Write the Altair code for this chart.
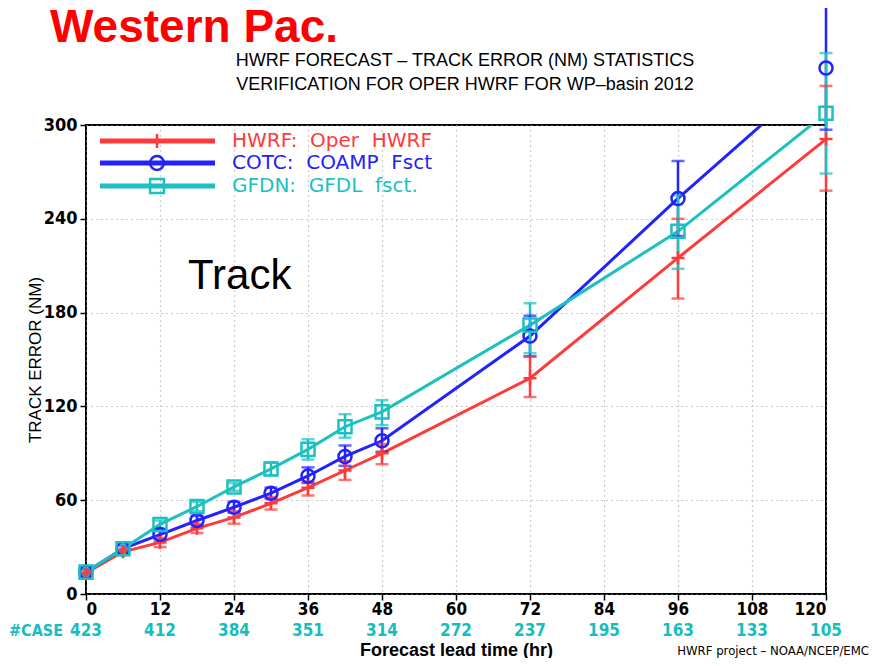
import altair as alt
import pandas as pd

# ---------------- data ----------------
hours = [0, 6, 12, 18, 24, 30, 36, 42, 48, 72, 96, 120]

hwrf = [13.5, 27, 33, 42, 49, 58, 68, 79, 90, 138, 215, 291]
hwrf_lo = [12, 25, 30, 39, 45, 54, 63, 73, 83, 126, 189, 258]
hwrf_hi = [15, 29, 36, 45, 53, 62, 72, 85, 96, 152, 240, 325]

cotc = [14, 29, 38, 47, 55.5, 64.5, 75.5, 88, 98, 165, 253, 336.5]
cotc_lo = [12, 27, 35, 44, 52, 61, 71, 82, 91, 152, 229, 297]
cotc_hi = [16, 31, 41, 50, 59, 68, 81, 95, 106, 178, 277, 377]

gfdn = [14, 29, 44.5, 56, 68.5, 80, 92.5, 107, 116.5, 172, 232, 307.5]
gfdn_lo = [12, 27, 42, 53, 66, 76, 86, 100, 108, 154, 208, 269]
gfdn_hi = [16, 31, 47, 59, 71, 84, 99, 115, 124, 186, 255, 346]

series_names = ["HWRF", "COTC", "GFDN"]
legend_labels = ["HWRF:\u00a0\u00a0Oper\u00a0\u00a0HWRF",
                 "COTC:\u00a0\u00a0COAMP\u00a0\u00a0Fsct",
                 "GFDN:\u00a0\u00a0GFDL\u00a0\u00a0fsct."]
colors = ["#FF3A3A", "#2222FF", "#1DC0C0"]

case_hours = [0, 12, 24, 36, 48, 60, 72, 84, 96, 108, 120]
case_counts = [423, 412, 384, 351, 314, 272, 237, 195, 163, 133, 105]

x_ticks = [0, 12, 24, 36, 48, 60, 72, 84, 96, 108, 120]
y_ticks = [0, 60, 120, 180, 240, 300]

# ---------------- tables ----------------
rows = []
for name, v, lo, hi in [("HWRF", hwrf, hwrf_lo, hwrf_hi),
                        ("COTC", cotc, cotc_lo, cotc_hi),
                        ("GFDN", gfdn, gfdn_lo, gfdn_hi)]:
    for h, a, b, c in zip(hours, v, lo, hi):
        rows.append({"series": name, "hour": h, "val": a, "lo": b, "hi": c})
df = pd.DataFrame(rows)
case_df = pd.DataFrame({"hour": case_hours, "n": [str(c) for c in case_counts]})

PLUS = "M-1,0H1M0,-1V1"
shapes = [PLUS, "circle", "square"]
NARROW = "Liberation Sans Narrow, DejaVu Sans Condensed, sans-serif"

W, H = 740, 469

xs = alt.Scale(domain=[0, 120], nice=False, zero=False)
ys = alt.Scale(domain=[0, 300], nice=False)
col = alt.Color("series:N", scale=alt.Scale(domain=series_names, range=colors), legend=None)

base = alt.Chart(df)

X = alt.X("hour:Q", scale=xs,
          axis=alt.Axis(values=x_ticks, title="Forecast lead time (hr)",
                        titleY=61, titleBaseline="alphabetic",
                        titleFont="Liberation Sans", titleFontSize=18, titleFontWeight="bold",
                        labelFont=NARROW, labelFontSize=17, labelFontWeight="bold", labelPadding=1,
                        tickSize=6, tickColor="black", tickWidth=1.5, domain=False,
                        grid=True, gridDash=[1, 4], gridColor="#9a9a9a", gridWidth=1.2,
                        labelColor="black", titleColor="black"))
Y = alt.Y("val:Q", scale=ys,
          axis=alt.Axis(values=y_ticks, title="TRACK ERROR (NM)",
                        titleFont="Liberation Sans", titleFontSize=17, titleFontWeight="normal",
                        titleX=-51, titleBaseline="middle",
                        labelFont=NARROW, labelFontSize=18, labelFontWeight="bold", labelPadding=3,
                        tickSize=6, tickColor="black", tickWidth=1.5, domain=False,
                        grid=True, gridDash=[1, 4], gridColor="#9a9a9a", gridWidth=1.2,
                        labelColor="black", titleColor="black"))

lines = base.mark_line(strokeWidth=3, clip=True).encode(x=X, y=Y, color=col, detail="series:N")
err = base.mark_rule(strokeWidth=2.5).encode(x="hour:Q", y="lo:Q", y2="hi:Q", color=col)
cap_lo = base.mark_tick(orient="horizontal", size=13, thickness=2.5).encode(x="hour:Q", y="lo:Q", color=col)
cap_hi = base.mark_tick(orient="horizontal", size=13, thickness=2.5).encode(x="hour:Q", y="hi:Q", color=col)
pts = base.mark_point(filled=False, strokeWidth=2.5, size=170, opacity=1).encode(
    x="hour:Q", y="val:Q", color=col,
    shape=alt.Shape("series:N", scale=alt.Scale(domain=series_names, range=shapes), legend=None))

case_text = alt.Chart(case_df).mark_text(
    font=NARROW, fontSize=17, fontWeight="bold",
    color="#17BDBD", baseline="middle", align="center").encode(
    x="hour:Q", y=alt.value(506), text="n:N")

one = pd.DataFrame({"a": [0]})


def label(txt, x, y, size, color="black", weight="normal", font="Liberation Sans", align="left",
          baseline="alphabetic"):
    return alt.Chart(one).mark_text(text=txt, font=font, fontSize=size, fontWeight=weight,
                                    color=color, align=align, baseline=baseline).encode(
        x=alt.value(x), y=alt.value(y))


annos = [
    label("Western Pac.", -36, -83, 46, color="#FF0000", weight="bold"),
    label("HWRF FORECAST \u2013 TRACK ERROR (NM) STATISTICS", 379, -59, 18, align="center"),
    label("VERIFICATION FOR OPER HWRF FOR WP\u2013basin 2012", 379, -35, 18, align="center"),
    label("Track", 102, 164, 42),
    label("#CASE", -23, 506, 16, color="#17BDBD", weight="bold", font=NARROW, align="right",
          baseline="middle"),
    label("HWRF project \u2013 NOAA/NCEP/EMC", 783, 530, 13, font=NARROW, align="right"),
]

leg_layers = []
leg_y = [16, 38, 61]
for i in range(3):
    yy = leg_y[i]
    c = colors[i]
    leg_layers.append(alt.Chart(one).mark_rule(strokeWidth=5, color=c).encode(
        x=alt.value(14), x2=alt.value(129), y=alt.value(yy)))
    leg_layers.append(alt.Chart(one).mark_point(shape=shapes[i], filled=False, strokeWidth=2.5,
                                                size=190, color=c, opacity=1).encode(
        x=alt.value(71), y=alt.value(yy)))
    leg_layers.append(label(legend_labels[i], 146, yy, 20, color=c, font="DejaVu Sans",
                            baseline="middle"))

chart = alt.layer(lines, err, cap_lo, cap_hi, pts, case_text, *annos, *leg_layers).properties(
    width=W, height=H,
    autosize=alt.AutoSizeParams(type="none"),
    padding={"left": 78, "top": 117, "right": 44, "bottom": 64},
    background="white",
).configure_view(stroke="black", strokeWidth=2)

chart.save("out.html", embed_options={"renderer": "svg", "actions": False})
